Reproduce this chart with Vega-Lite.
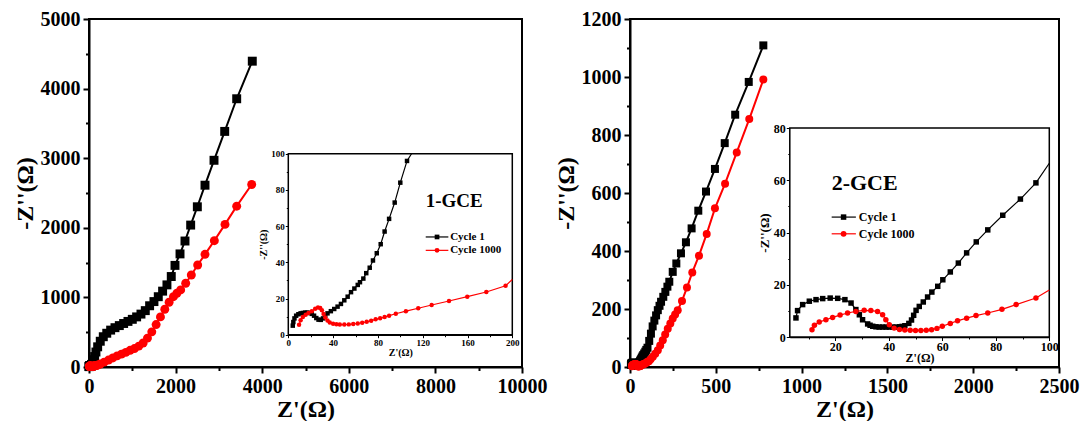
{
"$schema": "https://vega.github.io/schema/vega-lite/v6.json",
"padding": {"left": 12, "top": 8, "right": 2, "bottom": 5},
"spacing": 5,
"config": {
  "font": "Liberation Serif",
  "view": {"stroke": "black", "strokeWidth": 2},
  "axis": {"domainColor": "black", "domainWidth": 2, "tickColor": "black", "tickWidth": 2, "labelFont": "Liberation Serif", "labelFontWeight": "bold", "labelColor": "black", "titleFont": "Liberation Serif", "titleFontWeight": "bold", "titleColor": "black", "grid": false, "labelOverlap": false, "labelFlush": false, "zindex": 1, "format": "d"},
  "text": {"font": "Liberation Serif", "fontWeight": "bold", "color": "black"}
},
"datasets": {
  "g1": [
    {"s":"Cycle 1","x":4,"y":5},{"s":"Cycle 1","x":4.5,"y":7},{"s":"Cycle 1","x":5.5,"y":9},{"s":"Cycle 1","x":7,"y":10.5},{"s":"Cycle 1","x":9,"y":11.3},{"s":"Cycle 1","x":11,"y":11.8},{"s":"Cycle 1","x":13,"y":12},{"s":"Cycle 1","x":15,"y":12.2},{"s":"Cycle 1","x":17,"y":12.2},{"s":"Cycle 1","x":19,"y":12},{"s":"Cycle 1","x":21,"y":11.5},{"s":"Cycle 1","x":23,"y":10.5},{"s":"Cycle 1","x":25,"y":9.2},{"s":"Cycle 1","x":27,"y":8.3},{"s":"Cycle 1","x":29,"y":8.2},{"s":"Cycle 1","x":31,"y":9},{"s":"Cycle 1","x":33,"y":10.5},{"s":"Cycle 1","x":35,"y":11.8},{"s":"Cycle 1","x":38,"y":13},{"s":"Cycle 1","x":41,"y":14.2},{"s":"Cycle 1","x":44,"y":15.5},{"s":"Cycle 1","x":47,"y":17},{"s":"Cycle 1","x":50,"y":19},{"s":"Cycle 1","x":53,"y":21},{"s":"Cycle 1","x":56,"y":23.5},{"s":"Cycle 1","x":59,"y":25.5},{"s":"Cycle 1","x":62,"y":27.5},{"s":"Cycle 1","x":64,"y":29},{"s":"Cycle 1","x":67,"y":31},{"s":"Cycle 1","x":69.6,"y":34},{"s":"Cycle 1","x":72.7,"y":37},{"s":"Cycle 1","x":75.6,"y":41},{"s":"Cycle 1","x":79,"y":45},{"s":"Cycle 1","x":82.5,"y":50},{"s":"Cycle 1","x":86,"y":57},{"s":"Cycle 1","x":90,"y":64},{"s":"Cycle 1","x":95,"y":73},{"s":"Cycle 1","x":100,"y":84},{"s":"Cycle 1","x":106,"y":96},{"s":"Cycle 1","x":110,"y":104},{"s":"Cycle 1","x":130,"y":150},{"s":"Cycle 1","x":160,"y":215},{"s":"Cycle 1","x":200,"y":290},{"s":"Cycle 1","x":260,"y":370},{"s":"Cycle 1","x":330,"y":435},{"s":"Cycle 1","x":410,"y":485},{"s":"Cycle 1","x":500,"y":530},{"s":"Cycle 1","x":600,"y":565},{"s":"Cycle 1","x":700,"y":595},{"s":"Cycle 1","x":800,"y":625},{"s":"Cycle 1","x":900,"y":655},{"s":"Cycle 1","x":1000,"y":685},{"s":"Cycle 1","x":1100,"y":720},{"s":"Cycle 1","x":1200,"y":760},{"s":"Cycle 1","x":1300,"y":810},{"s":"Cycle 1","x":1400,"y":880},{"s":"Cycle 1","x":1500,"y":940},{"s":"Cycle 1","x":1600,"y":1010},{"s":"Cycle 1","x":1700,"y":1090},{"s":"Cycle 1","x":1800,"y":1180},{"s":"Cycle 1","x":1900,"y":1300},{"s":"Cycle 1","x":1986,"y":1460},{"s":"Cycle 1","x":2102,"y":1625},{"s":"Cycle 1","x":2217,"y":1810},{"s":"Cycle 1","x":2348,"y":2039},{"s":"Cycle 1","x":2502,"y":2302},{"s":"Cycle 1","x":2679,"y":2612},{"s":"Cycle 1","x":2887,"y":2970},{"s":"Cycle 1","x":3134,"y":3385},{"s":"Cycle 1","x":3411,"y":3854},{"s":"Cycle 1","x":3771,"y":4394},
    {"s":"Cycle 1000","x":9.6,"y":5.5},{"s":"Cycle 1000","x":11,"y":8},{"s":"Cycle 1000","x":13,"y":9.8},{"s":"Cycle 1000","x":15.5,"y":11},{"s":"Cycle 1000","x":18,"y":12},{"s":"Cycle 1000","x":21,"y":13},{"s":"Cycle 1000","x":24,"y":14.3},{"s":"Cycle 1000","x":26.5,"y":15},{"s":"Cycle 1000","x":28.5,"y":14.8},{"s":"Cycle 1000","x":30,"y":13.5},{"s":"Cycle 1000","x":31.5,"y":11.5},{"s":"Cycle 1000","x":33,"y":9.5},{"s":"Cycle 1000","x":35,"y":7.8},{"s":"Cycle 1000","x":37,"y":6.8},{"s":"Cycle 1000","x":40,"y":6.1},{"s":"Cycle 1000","x":43,"y":5.8},{"s":"Cycle 1000","x":46,"y":5.6},{"s":"Cycle 1000","x":50,"y":5.6},{"s":"Cycle 1000","x":54,"y":5.7},{"s":"Cycle 1000","x":58,"y":5.9},{"s":"Cycle 1000","x":62,"y":6.2},{"s":"Cycle 1000","x":66,"y":6.6},{"s":"Cycle 1000","x":70,"y":7.1},{"s":"Cycle 1000","x":74,"y":7.7},{"s":"Cycle 1000","x":78,"y":8.5},{"s":"Cycle 1000","x":82,"y":9.1},{"s":"Cycle 1000","x":86,"y":9.8},{"s":"Cycle 1000","x":90,"y":10.5},{"s":"Cycle 1000","x":96,"y":11.6},{"s":"Cycle 1000","x":105,"y":13},{"s":"Cycle 1000","x":116,"y":14.6},{"s":"Cycle 1000","x":128,"y":16.4},{"s":"Cycle 1000","x":143.5,"y":18.6},{"s":"Cycle 1000","x":159.8,"y":21},{"s":"Cycle 1000","x":176.8,"y":23.6},{"s":"Cycle 1000","x":194,"y":27},{"s":"Cycle 1000","x":212,"y":30.5},{"s":"Cycle 1000","x":260,"y":42},{"s":"Cycle 1000","x":350,"y":70},{"s":"Cycle 1000","x":450,"y":100},{"s":"Cycle 1000","x":550,"y":130},{"s":"Cycle 1000","x":650,"y":160},{"s":"Cycle 1000","x":750,"y":185},{"s":"Cycle 1000","x":850,"y":210},{"s":"Cycle 1000","x":950,"y":240},{"s":"Cycle 1000","x":1050,"y":265},{"s":"Cycle 1000","x":1150,"y":300},{"s":"Cycle 1000","x":1250,"y":345},{"s":"Cycle 1000","x":1350,"y":415},{"s":"Cycle 1000","x":1450,"y":505},{"s":"Cycle 1000","x":1550,"y":610},{"s":"Cycle 1000","x":1650,"y":720},{"s":"Cycle 1000","x":1750,"y":830},{"s":"Cycle 1000","x":1850,"y":930},{"s":"Cycle 1000","x":1950,"y":1010},{"s":"Cycle 1000","x":2030,"y":1060},{"s":"Cycle 1000","x":2117,"y":1108},{"s":"Cycle 1000","x":2233,"y":1203},{"s":"Cycle 1000","x":2363,"y":1322},{"s":"Cycle 1000","x":2510,"y":1466},{"s":"Cycle 1000","x":2679,"y":1619},{"s":"Cycle 1000","x":2895,"y":1815},{"s":"Cycle 1000","x":3141,"y":2049},{"s":"Cycle 1000","x":3411,"y":2311},{"s":"Cycle 1000","x":3757,"y":2622}
  ],
  "g2": [
    {"s":"Cycle 1","x":5.3,"y":7.3},{"s":"Cycle 1","x":5.9,"y":10.1},{"s":"Cycle 1","x":7.8,"y":12.4},{"s":"Cycle 1","x":10.3,"y":13.7},{"s":"Cycle 1","x":12.8,"y":14.3},{"s":"Cycle 1","x":15.3,"y":14.7},{"s":"Cycle 1","x":18.1,"y":14.9},{"s":"Cycle 1","x":20.9,"y":14.8},{"s":"Cycle 1","x":23.6,"y":14.3},{"s":"Cycle 1","x":25.9,"y":13},{"s":"Cycle 1","x":27.7,"y":10.5},{"s":"Cycle 1","x":29,"y":8.5},{"s":"Cycle 1","x":30.2,"y":6.6},{"s":"Cycle 1","x":32.1,"y":5},{"s":"Cycle 1","x":33,"y":4.5},{"s":"Cycle 1","x":34,"y":4.1},{"s":"Cycle 1","x":35.2,"y":3.9},{"s":"Cycle 1","x":36.4,"y":3.8},{"s":"Cycle 1","x":37.7,"y":3.8},{"s":"Cycle 1","x":39,"y":3.8},{"s":"Cycle 1","x":40.2,"y":3.8},{"s":"Cycle 1","x":41.5,"y":3.8},{"s":"Cycle 1","x":42.7,"y":3.8},{"s":"Cycle 1","x":44,"y":3.9},{"s":"Cycle 1","x":45,"y":4.05},{"s":"Cycle 1","x":46,"y":4.3},{"s":"Cycle 1","x":47.5,"y":5.2},{"s":"Cycle 1","x":48.5,"y":6.5},{"s":"Cycle 1","x":49.3,"y":8.3},{"s":"Cycle 1","x":50.2,"y":10.2},{"s":"Cycle 1","x":51.4,"y":11.7},{"s":"Cycle 1","x":52.9,"y":13.4},{"s":"Cycle 1","x":54.5,"y":15.3},{"s":"Cycle 1","x":56.1,"y":17.2},{"s":"Cycle 1","x":58.3,"y":19.4},{"s":"Cycle 1","x":60.2,"y":21.9},{"s":"Cycle 1","x":63,"y":24.9},{"s":"Cycle 1","x":66,"y":28.3},{"s":"Cycle 1","x":69.1,"y":32.2},{"s":"Cycle 1","x":72.7,"y":36.4},{"s":"Cycle 1","x":77,"y":41},{"s":"Cycle 1","x":82.6,"y":46.6},{"s":"Cycle 1","x":89.2,"y":52.8},{"s":"Cycle 1","x":95,"y":59},{"s":"Cycle 1","x":102,"y":66.5},{"s":"Cycle 1","x":112,"y":90},{"s":"Cycle 1","x":122,"y":115},{"s":"Cycle 1","x":132,"y":140},{"s":"Cycle 1","x":142,"y":160},{"s":"Cycle 1","x":152,"y":178},{"s":"Cycle 1","x":162,"y":196},{"s":"Cycle 1","x":172,"y":211},{"s":"Cycle 1","x":181,"y":225},{"s":"Cycle 1","x":194,"y":242},{"s":"Cycle 1","x":206,"y":259},{"s":"Cycle 1","x":218,"y":277},{"s":"Cycle 1","x":229,"y":294},{"s":"Cycle 1","x":249,"y":328},{"s":"Cycle 1","x":270,"y":357},{"s":"Cycle 1","x":297,"y":392},{"s":"Cycle 1","x":326,"y":430},{"s":"Cycle 1","x":359,"y":478},{"s":"Cycle 1","x":398,"y":539},{"s":"Cycle 1","x":443,"y":605},{"s":"Cycle 1","x":495,"y":683},{"s":"Cycle 1","x":552,"y":772},{"s":"Cycle 1","x":613,"y":870},{"s":"Cycle 1","x":692,"y":983},{"s":"Cycle 1","x":777,"y":1109},
    {"s":"Cycle 1000","x":11.3,"y":2.8},{"s":"Cycle 1000","x":12.2,"y":4.5},{"s":"Cycle 1000","x":14,"y":5.7},{"s":"Cycle 1000","x":16.5,"y":6.6},{"s":"Cycle 1000","x":19,"y":7.5},{"s":"Cycle 1000","x":21.8,"y":8.4},{"s":"Cycle 1000","x":24.6,"y":9.2},{"s":"Cycle 1000","x":27.7,"y":9.8},{"s":"Cycle 1000","x":30.8,"y":10.2},{"s":"Cycle 1000","x":33.3,"y":10.1},{"s":"Cycle 1000","x":35.8,"y":9.8},{"s":"Cycle 1000","x":37.7,"y":8.5},{"s":"Cycle 1000","x":38.9,"y":6.6},{"s":"Cycle 1000","x":40.2,"y":4.7},{"s":"Cycle 1000","x":42,"y":3.4},{"s":"Cycle 1000","x":44,"y":2.9},{"s":"Cycle 1000","x":46,"y":2.7},{"s":"Cycle 1000","x":48,"y":2.6},{"s":"Cycle 1000","x":50,"y":2.5},{"s":"Cycle 1000","x":52,"y":2.5},{"s":"Cycle 1000","x":54,"y":2.6},{"s":"Cycle 1000","x":56,"y":2.8},{"s":"Cycle 1000","x":58,"y":3.3},{"s":"Cycle 1000","x":60,"y":4.1},{"s":"Cycle 1000","x":63,"y":5.2},{"s":"Cycle 1000","x":65.7,"y":6.2},{"s":"Cycle 1000","x":69.1,"y":7.2},{"s":"Cycle 1000","x":72.6,"y":8.2},{"s":"Cycle 1000","x":77,"y":9.2},{"s":"Cycle 1000","x":82.3,"y":10.6},{"s":"Cycle 1000","x":87.6,"y":12.4},{"s":"Cycle 1000","x":95,"y":14.9},{"s":"Cycle 1000","x":102,"y":18},{"s":"Cycle 1000","x":110,"y":20},{"s":"Cycle 1000","x":120,"y":27},{"s":"Cycle 1000","x":133,"y":35},{"s":"Cycle 1000","x":147,"y":46},{"s":"Cycle 1000","x":162,"y":58},{"s":"Cycle 1000","x":176,"y":74},{"s":"Cycle 1000","x":191,"y":92},{"s":"Cycle 1000","x":205,"y":112},{"s":"Cycle 1000","x":220,"y":132},{"s":"Cycle 1000","x":235,"y":150},{"s":"Cycle 1000","x":249,"y":167},{"s":"Cycle 1000","x":263,"y":181},{"s":"Cycle 1000","x":278,"y":196},{"s":"Cycle 1000","x":303,"y":228},{"s":"Cycle 1000","x":332,"y":274},{"s":"Cycle 1000","x":363,"y":326},{"s":"Cycle 1000","x":402,"y":384},{"s":"Cycle 1000","x":447,"y":459},{"s":"Cycle 1000","x":495,"y":547},{"s":"Cycle 1000","x":554,"y":632},{"s":"Cycle 1000","x":622,"y":740},{"s":"Cycle 1000","x":695,"y":855},{"s":"Cycle 1000","x":777,"y":991}
  ]
},
"hconcat": [
{
  "width": 433, "height": 348,
  "data": {"name": "g1"},
  "resolve": {"scale": {"x": "independent", "y": "independent"}, "axis": {"x": "independent", "y": "independent"}},
  "layer": [
    {"mark": {"type": "line", "strokeWidth": 2},
     "encoding": {
        "x": {"field": "x", "type": "quantitative", "scale": {"domain": [0, 10000], "nice": false},
          "axis": {"orient": "bottom", "values": [0,1000,2000,3000,4000,5000,6000,7000,8000,9000,10000], "labelExpr": "datum.value % 2000 === 0 ? datum.label : ''", "title": "Z'(Ω)", "labelFontSize": 20, "titleFontSize": 24, "labelPadding": 3, "titlePadding": 1, "tickSize": {"condition": {"test": "datum.value % 2000 === 0", "value": 6}, "value": 3.5}}},
        "y": {"field": "y", "type": "quantitative", "scale": {"domain": [0, 5000], "nice": false},
          "axis": {"orient": "left", "values": [0,500,1000,1500,2000,2500,3000,3500,4000,4500,5000], "labelExpr": "datum.value % 1000 === 0 ? datum.label : ''", "title": "-Z''(Ω)", "labelFontSize": 20, "titleFontSize": 24, "labelPadding": 3, "titlePadding": 3, "tickSize": {"condition": {"test": "datum.value % 1000 === 0", "value": 6}, "value": 3.5}}},
        "color": {"field": "s", "type": "nominal", "scale": {"domain": ["Cycle 1", "Cycle 1000"], "range": ["#000000", "#ff0000"]}, "legend": null}
     }},
    {"mark": {"type": "point", "filled": true, "size": 80, "opacity": 1},
     "encoding": {
        "x": {"field": "x", "type": "quantitative", "scale": {"domain": [0, 10000], "nice": false}, "axis": null},
        "y": {"field": "y", "type": "quantitative", "scale": {"domain": [0, 5000], "nice": false}, "axis": null},
        "color": {"field": "s", "type": "nominal", "legend": null},
        "shape": {"field": "s", "type": "nominal", "scale": {"domain": ["Cycle 1", "Cycle 1000"], "range": ["square", "circle"]}, "legend": null}
     }},
    {"data": {"values": [{"t": "frame"}]}, "mark": {"type": "rect", "fill": "white", "stroke": "black", "strokeWidth": 1.5},
     "encoding": {
        "x": {"datum": 0, "type": "quantitative", "scale": {"domain": [0, 200], "range": [199.3, 423.3], "nice": false, "zero": false}, "axis": null},
        "x2": {"datum": 200},
        "y": {"datum": 0, "type": "quantitative", "scale": {"domain": [0, 100], "range": [315.7, 134.7], "nice": false, "zero": false}, "axis": null},
        "y2": {"datum": 100}
     }},
    {"transform": [{"filter": "datum.x <= 215 && datum.y <= 110"}], "mark": {"type": "line", "strokeWidth": 1.2},
     "encoding": {
        "x": {"field": "x", "type": "quantitative", "scale": {"domain": [0, 200], "range": [199.3, 423.3], "nice": false, "zero": false, "clamp": true},
          "axis": {"orient": "bottom", "offset": -32.3, "values": [0,20,40,60,80,100,120,140,160,180,200], "labelExpr": "datum.value % 40 === 0 ? datum.label : ''", "title": "Z'(Ω)", "labelFontSize": 9, "titleFontSize": 10, "labelPadding": 1, "titlePadding": 0, "domainWidth": 1.5, "tickWidth": 1, "tickSize": {"condition": {"test": "datum.value % 40 === 0", "value": 3}, "value": 2}}},
        "y": {"field": "y", "type": "quantitative", "scale": {"domain": [0, 100], "range": [315.7, 134.7], "nice": false, "zero": false, "clamp": true},
          "axis": {"orient": "left", "offset": -199.3, "values": [0,10,20,30,40,50,60,70,80,90,100], "labelExpr": "datum.value % 20 === 0 ? datum.label : ''", "title": "-Z''(Ω)", "labelFontSize": 9, "titleFontSize": 10, "labelPadding": 1, "titlePadding": 2, "domainWidth": 1.5, "tickWidth": 1, "tickSize": {"condition": {"test": "datum.value % 20 === 0", "value": 3}, "value": 2}}},
        "color": {"field": "s", "type": "nominal", "legend": null}
     }},
    {"transform": [{"filter": "datum.x <= 200 && datum.y <= 100"}], "mark": {"type": "point", "filled": true, "size": 20, "opacity": 1},
     "encoding": {
        "x": {"field": "x", "type": "quantitative", "scale": {"domain": [0, 200], "range": [199.3, 423.3], "nice": false, "zero": false}, "axis": null},
        "y": {"field": "y", "type": "quantitative", "scale": {"domain": [0, 100], "range": [315.7, 134.7], "nice": false, "zero": false}, "axis": null},
        "color": {"field": "s", "type": "nominal", "legend": null},
        "shape": {"field": "s", "type": "nominal", "legend": null}
     }},
    {"data": {"values": [{"t": "1-GCE"}]}, "mark": {"type": "text", "fontSize": 19, "align": "left", "baseline": "middle"},
     "encoding": {"text": {"field": "t"},
        "x": {"datum": 122.7, "type": "quantitative", "scale": {"domain": [0, 200], "range": [199.3, 423.3], "nice": false, "zero": false}, "axis": null},
        "y": {"datum": 73.9, "type": "quantitative", "scale": {"domain": [0, 100], "range": [315.7, 134.7], "nice": false, "zero": false}, "axis": null}}},
    {"data": {"values": [{"t": "Cycle 1"}]}, "mark": {"type": "rule", "strokeWidth": 1.2, "color": "black"},
     "encoding": {
        "x": {"datum": 122.7, "type": "quantitative", "scale": {"domain": [0, 200], "range": [199.3, 423.3], "nice": false, "zero": false}, "axis": null},
        "x2": {"datum": 142.9},
        "y": {"datum": 54, "type": "quantitative", "scale": {"domain": [0, 100], "range": [315.7, 134.7], "nice": false, "zero": false}, "axis": null}}},
    {"data": {"values": [{"t": "Cycle 1"}]}, "mark": {"type": "point", "shape": "square", "filled": true, "size": 22, "opacity": 1, "color": "black"},
     "encoding": {
        "x": {"datum": 132.8, "type": "quantitative", "scale": {"domain": [0, 200], "range": [199.3, 423.3], "nice": false, "zero": false}, "axis": null},
        "y": {"datum": 54, "type": "quantitative", "scale": {"domain": [0, 100], "range": [315.7, 134.7], "nice": false, "zero": false}, "axis": null}}},
    {"data": {"values": [{"t": "Cycle 1"}]}, "mark": {"type": "text", "fontSize": 11, "align": "left", "baseline": "middle"},
     "encoding": {"text": {"field": "t"},
        "x": {"datum": 144.5, "type": "quantitative", "scale": {"domain": [0, 200], "range": [199.3, 423.3], "nice": false, "zero": false}, "axis": null},
        "y": {"datum": 54, "type": "quantitative", "scale": {"domain": [0, 100], "range": [315.7, 134.7], "nice": false, "zero": false}, "axis": null}}},
    {"data": {"values": [{"t": "Cycle 1000"}]}, "mark": {"type": "rule", "strokeWidth": 1.2, "color": "#ff0000"},
     "encoding": {
        "x": {"datum": 122.7, "type": "quantitative", "scale": {"domain": [0, 200], "range": [199.3, 423.3], "nice": false, "zero": false}, "axis": null},
        "x2": {"datum": 142.9},
        "y": {"datum": 46.6, "type": "quantitative", "scale": {"domain": [0, 100], "range": [315.7, 134.7], "nice": false, "zero": false}, "axis": null}}},
    {"data": {"values": [{"t": "Cycle 1000"}]}, "mark": {"type": "point", "shape": "circle", "filled": true, "size": 24, "opacity": 1, "color": "#ff0000"},
     "encoding": {
        "x": {"datum": 132.8, "type": "quantitative", "scale": {"domain": [0, 200], "range": [199.3, 423.3], "nice": false, "zero": false}, "axis": null},
        "y": {"datum": 46.6, "type": "quantitative", "scale": {"domain": [0, 100], "range": [315.7, 134.7], "nice": false, "zero": false}, "axis": null}}},
    {"data": {"values": [{"t": "Cycle 1000"}]}, "mark": {"type": "text", "fontSize": 11, "align": "left", "baseline": "middle"},
     "encoding": {"text": {"field": "t"},
        "x": {"datum": 144.5, "type": "quantitative", "scale": {"domain": [0, 200], "range": [199.3, 423.3], "nice": false, "zero": false}, "axis": null},
        "y": {"datum": 46.6, "type": "quantitative", "scale": {"domain": [0, 100], "range": [315.7, 134.7], "nice": false, "zero": false}, "axis": null}}}
  ]
},
{
  "width": 429, "height": 348,
  "data": {"name": "g2"},
  "resolve": {"scale": {"x": "independent", "y": "independent"}, "axis": {"x": "independent", "y": "independent"}},
  "layer": [
    {"mark": {"type": "line", "strokeWidth": 2},
     "encoding": {
        "x": {"field": "x", "type": "quantitative", "scale": {"domain": [0, 2500], "nice": false},
          "axis": {"orient": "bottom", "values": [0,250,500,750,1000,1250,1500,1750,2000,2250,2500], "labelExpr": "datum.value % 500 === 0 ? datum.label : ''", "title": "Z'(Ω)", "labelFontSize": 20, "titleFontSize": 24, "labelPadding": 3, "titlePadding": 1, "tickSize": {"condition": {"test": "datum.value % 500 === 0", "value": 6}, "value": 3.5}}},
        "y": {"field": "y", "type": "quantitative", "scale": {"domain": [0, 1200], "nice": false},
          "axis": {"orient": "left", "values": [0,100,200,300,400,500,600,700,800,900,1000,1100,1200], "labelExpr": "datum.value % 200 === 0 ? datum.label : ''", "title": "-Z''(Ω)", "labelFontSize": 20, "titleFontSize": 24, "labelPadding": 3, "titlePadding": 3, "tickSize": {"condition": {"test": "datum.value % 200 === 0", "value": 6}, "value": 3.5}}},
        "color": {"field": "s", "type": "nominal", "scale": {"domain": ["Cycle 1", "Cycle 1000"], "range": ["#000000", "#ff0000"]}, "legend": null}
     }},
    {"mark": {"type": "point", "filled": true, "size": 64, "opacity": 1},
     "encoding": {
        "x": {"field": "x", "type": "quantitative", "scale": {"domain": [0, 2500], "nice": false}, "axis": null},
        "y": {"field": "y", "type": "quantitative", "scale": {"domain": [0, 1200], "nice": false}, "axis": null},
        "color": {"field": "s", "type": "nominal", "legend": null},
        "shape": {"field": "s", "type": "nominal", "scale": {"domain": ["Cycle 1", "Cycle 1000"], "range": ["square", "circle"]}, "legend": null}
     }},
    {"data": {"values": [{"t": "frame"}]}, "mark": {"type": "rect", "fill": "white", "stroke": "black", "strokeWidth": 1.5},
     "encoding": {
        "x": {"datum": 3, "type": "quantitative", "scale": {"domain": [3, 100], "range": [159.8, 419.3], "nice": false, "zero": false}, "axis": null},
        "x2": {"datum": 100},
        "y": {"datum": 0, "type": "quantitative", "scale": {"domain": [0, 80], "range": [318, 109], "nice": false, "zero": false}, "axis": null},
        "y2": {"datum": 80}
     }},
    {"transform": [{"filter": "datum.x <= 103 && datum.y <= 80"}], "mark": {"type": "line", "strokeWidth": 1.2},
     "encoding": {
        "x": {"field": "x", "type": "quantitative", "scale": {"domain": [3, 100], "range": [159.8, 419.3], "nice": false, "zero": false, "clamp": true},
          "axis": {"orient": "bottom", "offset": -30, "values": [10,20,30,40,50,60,70,80,90,100], "labelExpr": "datum.value % 20 === 0 ? datum.label : ''", "title": "Z'(Ω)", "labelFontSize": 12, "titleFontSize": 12, "labelPadding": 1, "titlePadding": 0, "domainWidth": 1.5, "tickWidth": 1, "tickSize": {"condition": {"test": "datum.value % 20 === 0", "value": 3.5}, "value": 2}}},
        "y": {"field": "y", "type": "quantitative", "scale": {"domain": [0, 80], "range": [318, 109], "nice": false, "zero": false, "clamp": true},
          "axis": {"orient": "left", "offset": -159.8, "values": [0,10,20,30,40,50,60,70,80], "labelExpr": "datum.value % 20 === 0 ? datum.label : ''", "title": "-Z''(Ω)", "labelFontSize": 12, "titleFontSize": 13, "labelPadding": 1, "titlePadding": 2, "domainWidth": 1.5, "tickWidth": 1, "tickSize": {"condition": {"test": "datum.value % 20 === 0", "value": 3.5}, "value": 2}}},
        "color": {"field": "s", "type": "nominal", "legend": null}
     }},
    {"transform": [{"filter": "datum.x <= 100 && datum.y <= 80"}], "mark": {"type": "point", "filled": true, "size": 30, "opacity": 1},
     "encoding": {
        "x": {"field": "x", "type": "quantitative", "scale": {"domain": [3, 100], "range": [159.8, 419.3], "nice": false, "zero": false}, "axis": null},
        "y": {"field": "y", "type": "quantitative", "scale": {"domain": [0, 80], "range": [318, 109], "nice": false, "zero": false}, "axis": null},
        "color": {"field": "s", "type": "nominal", "legend": null},
        "shape": {"field": "s", "type": "nominal", "legend": null}
     }},
    {"data": {"values": [{"t": "2-GCE"}]}, "mark": {"type": "text", "fontSize": 22, "align": "left", "baseline": "middle"},
     "encoding": {"text": {"field": "t"},
        "x": {"datum": 18.65, "type": "quantitative", "scale": {"domain": [3, 100], "range": [159.8, 419.3], "nice": false, "zero": false}, "axis": null},
        "y": {"datum": 58.8, "type": "quantitative", "scale": {"domain": [0, 80], "range": [318, 109], "nice": false, "zero": false}, "axis": null}}},
    {"data": {"values": [{"t": "Cycle 1"}]}, "mark": {"type": "rule", "strokeWidth": 1.2, "color": "black"},
     "encoding": {
        "x": {"datum": 18.65, "type": "quantitative", "scale": {"domain": [3, 100], "range": [159.8, 419.3], "nice": false, "zero": false}, "axis": null},
        "x2": {"datum": 27.7},
        "y": {"datum": 45.9, "type": "quantitative", "scale": {"domain": [0, 80], "range": [318, 109], "nice": false, "zero": false}, "axis": null}}},
    {"data": {"values": [{"t": "Cycle 1"}]}, "mark": {"type": "point", "shape": "square", "filled": true, "size": 30, "opacity": 1, "color": "black"},
     "encoding": {
        "x": {"datum": 23.1, "type": "quantitative", "scale": {"domain": [3, 100], "range": [159.8, 419.3], "nice": false, "zero": false}, "axis": null},
        "y": {"datum": 45.9, "type": "quantitative", "scale": {"domain": [0, 80], "range": [318, 109], "nice": false, "zero": false}, "axis": null}}},
    {"data": {"values": [{"t": "Cycle 1"}]}, "mark": {"type": "text", "fontSize": 12, "align": "left", "baseline": "middle"},
     "encoding": {"text": {"field": "t"},
        "x": {"datum": 28.8, "type": "quantitative", "scale": {"domain": [3, 100], "range": [159.8, 419.3], "nice": false, "zero": false}, "axis": null},
        "y": {"datum": 45.9, "type": "quantitative", "scale": {"domain": [0, 80], "range": [318, 109], "nice": false, "zero": false}, "axis": null}}},
    {"data": {"values": [{"t": "Cycle 1000"}]}, "mark": {"type": "rule", "strokeWidth": 1.2, "color": "#ff0000"},
     "encoding": {
        "x": {"datum": 18.65, "type": "quantitative", "scale": {"domain": [3, 100], "range": [159.8, 419.3], "nice": false, "zero": false}, "axis": null},
        "x2": {"datum": 27.7},
        "y": {"datum": 39.5, "type": "quantitative", "scale": {"domain": [0, 80], "range": [318, 109], "nice": false, "zero": false}, "axis": null}}},
    {"data": {"values": [{"t": "Cycle 1000"}]}, "mark": {"type": "point", "shape": "circle", "filled": true, "size": 34, "opacity": 1, "color": "#ff0000"},
     "encoding": {
        "x": {"datum": 23.1, "type": "quantitative", "scale": {"domain": [3, 100], "range": [159.8, 419.3], "nice": false, "zero": false}, "axis": null},
        "y": {"datum": 39.5, "type": "quantitative", "scale": {"domain": [0, 80], "range": [318, 109], "nice": false, "zero": false}, "axis": null}}},
    {"data": {"values": [{"t": "Cycle 1000"}]}, "mark": {"type": "text", "fontSize": 12, "align": "left", "baseline": "middle"},
     "encoding": {"text": {"field": "t"},
        "x": {"datum": 28.8, "type": "quantitative", "scale": {"domain": [3, 100], "range": [159.8, 419.3], "nice": false, "zero": false}, "axis": null},
        "y": {"datum": 39.5, "type": "quantitative", "scale": {"domain": [0, 80], "range": [318, 109], "nice": false, "zero": false}, "axis": null}}}
  ]
}
]
}
